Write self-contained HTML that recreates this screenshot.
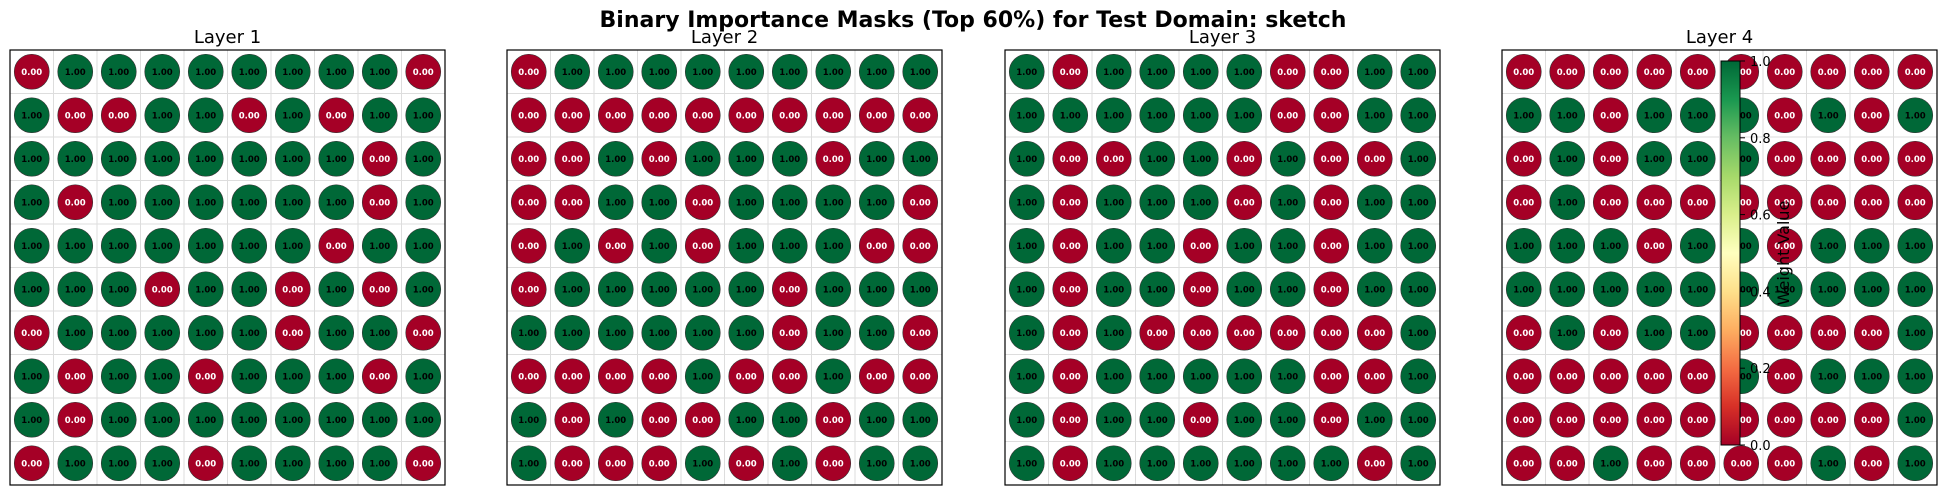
<!DOCTYPE html>
<html><head><meta charset="utf-8"><style>
html,body{margin:0;padding:0;background:#fff;}
svg{display:block;font-family:"DejaVu Sans","Liberation Sans",sans-serif;}
</style></head><body>
<svg id="chart" width="1946" height="495" viewBox="0 0 1946 495">
<defs>
<linearGradient id="rdylgn" x1="0" y1="1" x2="0" y2="0">
<stop offset="0" stop-color="#a50026"/><stop offset="0.1" stop-color="#d73027"/><stop offset="0.2" stop-color="#f46d43"/><stop offset="0.3" stop-color="#fdae61"/><stop offset="0.4" stop-color="#fee08b"/><stop offset="0.5" stop-color="#ffffbf"/><stop offset="0.6" stop-color="#d9ef8b"/><stop offset="0.7" stop-color="#a6d96a"/><stop offset="0.8" stop-color="#66bd63"/><stop offset="0.9" stop-color="#1a9850"/><stop offset="1" stop-color="#006837"/>
</linearGradient>
</defs>
<text x="973" y="27" text-anchor="middle" font-size="22" font-weight="bold">Binary Importance Masks (Top 60%) for Test Domain: sketch</text>
<g id="panels"></g>
<g id="cbar"></g>
</svg>
<script>
const layerTitles = ["Layer 1","Layer 2","Layer 3","Layer 4"];
const layer1 = [
[0,1,1,1,1,1,1,1,1,0],[1,0,0,1,1,0,1,0,1,1],[1,1,1,1,1,1,1,1,0,1],[1,0,1,1,1,1,1,1,0,1],[1,1,1,1,1,1,1,0,1,1],
[1,1,1,0,1,1,0,1,0,1],[0,1,1,1,1,1,0,1,1,0],[1,0,1,1,0,1,1,1,0,1],[1,0,1,1,1,1,1,1,1,1],[0,1,1,1,0,1,1,1,1,0]];
const layer2 = [
[0,1,1,1,1,1,1,1,1,1],[0,0,0,0,0,0,0,0,0,0],[0,0,1,0,1,1,1,0,1,1],[0,0,1,1,0,1,1,1,1,0],[0,1,0,1,0,1,1,1,0,0],
[0,1,1,1,1,1,0,1,1,1],[1,1,1,1,1,1,0,1,1,0],[0,0,0,0,1,0,0,1,0,0],[1,0,1,0,0,1,1,0,1,1],[1,0,0,0,1,0,1,0,1,1]];
const layer3 = [
[1,0,1,1,1,1,0,0,1,1],[1,1,1,1,1,1,0,0,1,1],[1,0,0,1,1,0,1,0,0,1],[1,0,1,1,1,0,1,0,1,1],[1,0,1,1,0,1,1,0,1,1],
[1,0,1,1,0,1,1,0,1,1],[1,0,1,0,0,0,0,0,0,1],[1,0,1,1,1,1,1,0,0,1],[1,0,1,1,0,1,1,0,1,1],[1,0,1,1,1,1,1,1,0,1]];
const layer4 = [
[0,0,0,0,0,0,0,0,0,0],[1,1,0,1,1,1,0,1,0,1],[0,1,0,1,1,1,0,0,0,0],[0,1,0,0,0,0,0,0,0,0],[1,1,1,0,1,1,0,1,1,1],
[1,1,1,1,1,1,1,1,1,1],[0,1,0,1,1,0,0,0,0,1],[0,0,0,0,0,1,0,1,1,1],[0,0,0,0,0,0,0,0,0,1],[0,0,1,0,0,0,0,1,0,1]];
const cbarTicks = [0.0,0.2,0.4,0.6,0.8,1.0];

const NS="http://www.w3.org/2000/svg";
function mk(tag,attrs,parent){const e=document.createElementNS(NS,tag);for(const k in attrs)e.setAttribute(k,attrs[k]);parent.appendChild(e);return e;}
const panelsG=document.getElementById('panels');
const panelX=[10,507,1005,1502];
const PY=50, PW=435;
const layers=[layer1,layer2,layer3,layer4];
layers.forEach((grid,li)=>{
  const x0=panelX[li], n=grid.length, cell=PW/n;
  const xs=c=>x0+cell*(c+0.5), ys=r=>PY+cell*(r+0.5);
  const g=mk('g',{},panelsG);
  
  
  const t=mk('text',{x:x0+PW/2,y:43,'text-anchor':'middle','font-size':18},g);
  t.textContent=layerTitles[li];
  
  
  mk('rect',{x:x0,y:PY,width:PW,height:PW,fill:'#fff'},g);
  for(let i=1;i<n;i++){
    mk('line',{x1:x0+cell*i,x2:x0+cell*i,y1:PY,y2:PY+PW,stroke:'#ddd','stroke-width':1},g);
    mk('line',{y1:PY+cell*i,y2:PY+cell*i,x1:x0,x2:x0+PW,stroke:'#ddd','stroke-width':1},g);
  }
  grid.forEach((row,r)=>row.forEach((v,c)=>{
    const cc=mk('circle',{cx:xs(c),cy:ys(r),r:17.5,fill:v?'#006837':'#a50026',stroke:'#333','stroke-width':0.6},g);
    
    
    const tx=mk('text',{x:xs(c),y:ys(r)+3,'text-anchor':'middle','font-size':8.5,'font-weight':'bold',fill:v?'#000':'#fff'},g);
    tx.textContent=v.toFixed(2);
    
    
  }));
  mk('rect',{x:x0,y:PY,width:PW,height:PW,fill:'none',stroke:'#000','stroke-width':1.2},g);
});
// colorbar
const cb=document.getElementById('cbar');
const CX=1721, CW=19, CT=61, CB=445;
const cy=v=>CB-(CB-CT)*v;
mk('rect',{x:CX,y:CT,width:CW,height:CB-CT,fill:'url(#rdylgn)',stroke:'#000','stroke-width':1},cb);
cbarTicks.forEach(v=>{
  mk('line',{x1:CX+CW,x2:CX+CW+5,y1:cy(v),y2:cy(v),stroke:'#000','stroke-width':1},cb);
  const t=mk('text',{x:CX+CW+10,y:cy(v)+5,'font-size':13},cb);
  t.textContent=v.toFixed(1);
  
  
});
const lab=mk('text',{x:0,y:0,'text-anchor':'middle','font-size':16,transform:'translate(1789,253) rotate(-90)'},cb);
lab.textContent='Weight Value';


</script>
</body></html>
